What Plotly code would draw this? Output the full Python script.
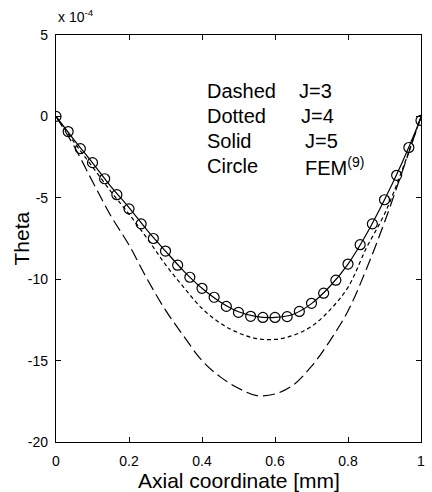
import plotly.graph_objects as go

# ---- data (Theta in units of 1e-4) ----
x_curve = [0.0, 0.05, 0.1, 0.15, 0.2, 0.25, 0.3, 0.35, 0.4, 0.45, 0.5,
           0.55, 0.6, 0.65, 0.7, 0.75, 0.8, 0.85, 0.9, 0.95, 1.0]
theta_j3 = [0.0, -1.85, -4.0, -6.1, -7.9, -10.0, -11.9, -13.5, -15.0, -16.0, -16.7,
            -17.15, -17.05, -16.5, -15.35, -13.8, -11.95, -9.4, -6.5, -3.3, 0.0]
theta_j4 = [0.0, -1.6, -3.1, -4.6, -6.0, -7.5, -9.1, -10.5, -11.8, -12.7, -13.3,
            -13.65, -13.7, -13.45, -12.9, -11.9, -10.5, -8.1, -6.0, -3.2, 0.0]
theta_j5 = [0.0, -1.45, -2.85, -4.3, -5.6, -7.0, -8.27, -9.5, -10.56, -11.4, -12.0,
            -12.3, -12.35, -12.15, -11.5, -10.45, -9.07, -7.25, -5.12, -2.75, -0.1]

x_fem = [0.0, 0.0333, 0.0667, 0.1, 0.1333, 0.1667, 0.2, 0.2333, 0.2667, 0.3, 0.3333,
         0.3667, 0.4, 0.4333, 0.4667, 0.5, 0.5333, 0.5667, 0.6, 0.6333, 0.6667,
         0.7, 0.7333, 0.7667, 0.8, 0.8333, 0.8667, 0.9, 0.9333, 0.9667, 1.0]
theta_fem = [0.0, -0.93, -1.98, -2.84, -3.83, -4.81, -5.68, -6.6, -7.5, -8.27, -9.14,
             -9.88, -10.56, -11.11, -11.67, -12.04, -12.28, -12.35, -12.35, -12.3, -11.98,
             -11.48, -10.86, -10.06, -9.07, -7.88, -6.6, -5.12, -3.62, -1.91, -0.25]

x_ticks = [0, 0.2, 0.4, 0.6, 0.8, 1.0]
x_tick_labels = ["0", "0.2", "0.4", "0.6", "0.8", "1"]
y_ticks = [5, 0, -5, -10, -15, -20]
y_tick_labels = ["5", "0", "-5", "-10", "-15", "-20"]

legend_names = ["Dashed", "Dotted", "Solid", "Circle"]
legend_labels = ["J=3", "J=4", "J=5", "FEM<sup>(9)</sup>"]

FONT = "Arial, Liberation Sans, sans-serif"

fig = go.Figure()
fig.add_trace(go.Scatter(x=x_curve, y=theta_j3, mode="lines", line_shape="spline",
                         line=dict(color="black", width=1.2, dash="12px,5px")))
fig.add_trace(go.Scatter(x=x_curve, y=theta_j4, mode="lines", line_shape="spline",
                         line=dict(color="black", width=1.2, dash="4px,3px")))
fig.add_trace(go.Scatter(x=x_curve, y=theta_j5, mode="lines", line_shape="spline",
                         line=dict(color="black", width=1.2)))
fig.add_trace(go.Scatter(x=x_fem, y=theta_fem, mode="markers",
                         marker=dict(symbol="circle-open", size=10, color="black",
                                     line=dict(width=1.2, color="black"))))

axis_common = dict(showline=True, linecolor="black", linewidth=1.2, mirror="ticks",
                   ticks="inside", ticklen=5, tickcolor="black", tickwidth=1,
                   showgrid=False, zeroline=False,
                   tickfont=dict(family=FONT, size=14, color="black"))
fig.update_xaxes(range=[0, 1], tickvals=x_ticks, ticktext=x_tick_labels,
                 ticklabelstandoff=6, **axis_common)
fig.update_yaxes(range=[-20, 5], tickvals=y_ticks, ticktext=y_tick_labels,
                 ticklabelstandoff=4, **axis_common)

annotations = [
    dict(text="Axial coordinate [mm]", xref="paper", yref="paper", x=0.5, y=0,
         xanchor="center", yanchor="top", yshift=-25, showarrow=False,
         font=dict(family=FONT, size=21, color="black")),
    dict(text="Theta", xref="paper", yref="paper", x=0, y=0.5, textangle=-90,
         xanchor="center", yanchor="middle", xshift=-35, showarrow=False,
         font=dict(family=FONT, size=21, color="black")),
    dict(text="x 10<sup>-4</sup>", xref="paper", yref="paper", x=0, y=1,
         xanchor="left", yanchor="bottom", xshift=0, yshift=8, showarrow=False,
         font=dict(family=FONT, size=14, color="black")),
]
row_y = [91, 116, 141, 166]
label_x = [300, 302, 306, 306]
for name, lab, py, lx in zip(legend_names, legend_labels, row_y, label_x):
    yp = (442 - py) / 407
    annotations.append(dict(text=name, xref="paper", yref="paper", x=(207 - 56) / 369, y=yp,
                            xanchor="left", yanchor="middle", showarrow=False,
                            font=dict(family=FONT, size=20, color="black")))
    annotations.append(dict(text=lab, xref="paper", yref="paper", x=(lx - 56) / 369, y=yp,
                            xanchor="left", yanchor="middle", showarrow=False,
                            font=dict(family=FONT, size=20, color="black")))

fig.update_layout(width=432, height=492, margin=dict(l=56, r=7, t=35, b=50),
                  paper_bgcolor="white", plot_bgcolor="white", showlegend=False,
                  annotations=annotations)

fig.write_html("out.html", config={"displayModeBar": False},
               post_script="document.body.style.margin='0';")
